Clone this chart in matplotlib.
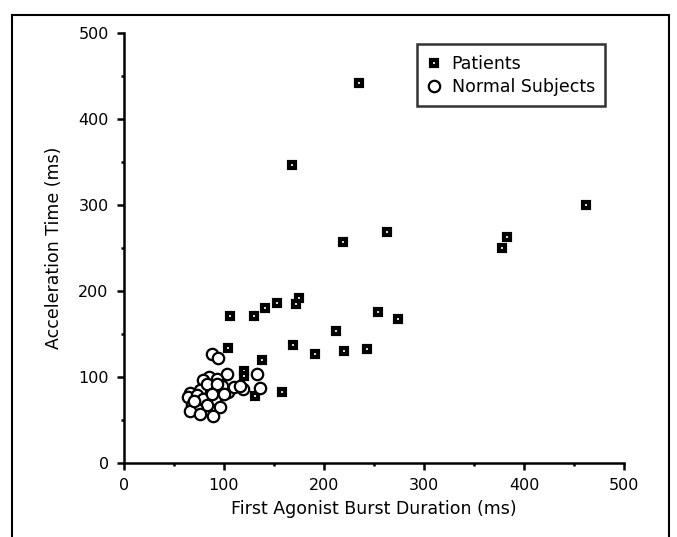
import matplotlib
matplotlib.use('Agg')
import matplotlib.pyplot as plt
from matplotlib.patches import Rectangle
from matplotlib.ticker import MultipleLocator

# patients: first agonist burst duration (ms) vs acceleration time (ms)
patient_burst = [235, 168, 462, 263, 219, 378, 383, 106, 130, 141, 153, 175, 172,
                 254, 274, 212, 104, 169, 191, 220, 243, 138, 120, 120, 131, 158]
patient_accel = [442, 346, 300, 269, 257, 250, 263, 171, 171, 180, 186, 192, 185,
                 176, 167, 153, 134, 137, 127, 130, 132, 120, 107, 101, 78, 82]

# normal subjects
normal_burst = [88, 94, 103, 85, 93, 79, 133, 136, 119, 104, 98, 86, 76, 66, 64, 73,
                79, 91, 96, 83, 68, 73, 66, 76, 89, 83, 93, 100, 110, 116, 88, 70]
normal_accel = [127, 122, 104, 100, 98, 97, 103, 87, 86, 83, 89, 86, 85, 81, 77, 79,
                74, 75, 65, 68, 68, 63, 60, 57, 55, 92, 92, 80, 88, 90, 80, 72]

fig = plt.figure(figsize=(6.77, 5.37), dpi=100)
ax = fig.add_axes([124/677, 1 - 463/537, 500/677, 430/537])

ax.plot(patient_burst, patient_accel, linestyle='none', marker='s', markersize=5.0,
        markerfacecolor='white', markeredgecolor='black', markeredgewidth=3.0,
        label='Patients', zorder=3)
ax.plot(normal_burst, normal_accel, linestyle='none', marker='o', markersize=8.2,
        markerfacecolor='white', markeredgecolor='black', markeredgewidth=1.6,
        label='Normal Subjects', zorder=4)

ax.set_xlim(0, 500)
ax.set_ylim(0, 500)
ax.xaxis.set_major_locator(MultipleLocator(100))
ax.yaxis.set_major_locator(MultipleLocator(100))
ax.xaxis.set_minor_locator(MultipleLocator(50))
ax.yaxis.set_minor_locator(MultipleLocator(50))

for side in ['top', 'right']:
    ax.spines[side].set_visible(False)
for side in ['left', 'bottom']:
    ax.spines[side].set_linewidth(1.8)

ax.tick_params(which='major', direction='out', length=5, width=1.8, labelsize=11.5, pad=6)
ax.tick_params(which='minor', direction='out', length=2.5, width=1.8)

ax.set_xlabel('First Agonist Burst Duration (ms)', fontsize=12.5, labelpad=5)
ax.set_ylabel('Acceleration Time (ms)', fontsize=12.5, labelpad=11)

leg = ax.legend(loc='upper left', bbox_to_anchor=(0.586, 0.974), borderaxespad=0,
                fontsize=12.5, frameon=True, fancybox=False, handlelength=0.8,
                handletextpad=0.6, borderpad=0.6, labelspacing=0.3)
leg.get_frame().set_edgecolor('black')
leg.get_frame().set_linewidth(1.8)

# border around the whole figure
fig.patches.append(Rectangle((12/677, -0.05), 657/677, 1.05 - 15/537, fill=False,
                             edgecolor='black', linewidth=1.5,
                             transform=fig.transFigure, figure=fig))

fig.savefig('out.png', dpi=100)
